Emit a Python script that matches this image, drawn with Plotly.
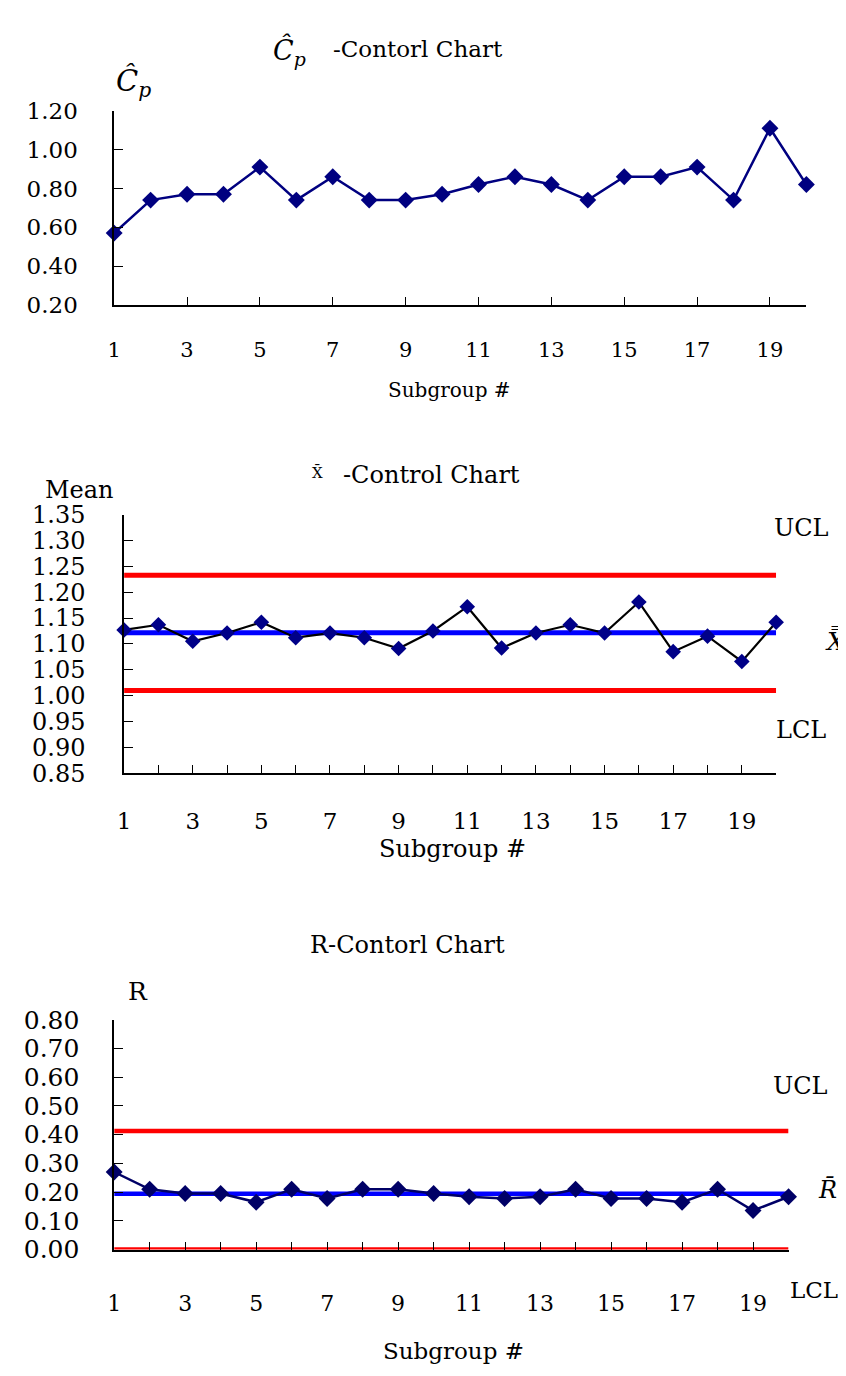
import plotly.graph_objects as go

# ---------------- data ----------------
subgroups = list(range(1, 21))
cp_values = [0.57, 0.74, 0.77, 0.77, 0.91, 0.74, 0.86, 0.74, 0.74, 0.77,
             0.82, 0.86, 0.82, 0.74, 0.86, 0.86, 0.91, 0.74, 1.11, 0.82]
xbar_values = [1.127, 1.137, 1.105, 1.121, 1.142, 1.112, 1.121, 1.112, 1.091, 1.125,
               1.172, 1.092, 1.121, 1.137, 1.121, 1.181, 1.085, 1.115, 1.066, 1.142]
r_values = [0.27, 0.21, 0.195, 0.195, 0.165, 0.21, 0.178, 0.21, 0.21, 0.195,
            0.184, 0.178, 0.184, 0.21, 0.178, 0.178, 0.165, 0.21, 0.136, 0.184]
xbar_limits = {"UCL": 1.233, "CL": 1.1215, "LCL": 1.010}
r_limits = {"UCL": 0.413, "CL": 0.194, "LCL": 0.0}
odd_ticks = [1, 3, 5, 7, 9, 11, 13, 15, 17, 19]
cp_yticks = [0.20, 0.40, 0.60, 0.80, 1.00, 1.20]
xbar_yticks = [0.85, 0.90, 0.95, 1.00, 1.05, 1.10, 1.15, 1.20, 1.25, 1.30, 1.35]
r_yticks = [0.0, 0.1, 0.2, 0.3, 0.4, 0.5, 0.6, 0.7, 0.8]

W, H = 846, 1376
def px(x):
    return x / W
def py(y):
    return 1 - y / H

FONT = "DejaVu Serif"
NAVY = "#000080"
RED = "#FF0000"
BLUE = "#0000FF"

fig = go.Figure()

# ---- top: Cp chart ----
fig.add_trace(go.Scatter(x=subgroups, y=cp_values, mode="lines+markers",
                         line=dict(color=NAVY, width=2.5),
                         marker=dict(symbol="diamond", size=13, color=NAVY),
                         cliponaxis=False, xaxis="x", yaxis="y", showlegend=False))

# ---- middle: Xbar chart ----
for key, col in (("UCL", RED), ("LCL", RED), ("CL", BLUE)):
    fig.add_trace(go.Scatter(x=[subgroups[0], subgroups[-1]],
                             y=[xbar_limits[key]] * 2, mode="lines",
                             line=dict(color=col, width=5), cliponaxis=False,
                             xaxis="x2", yaxis="y2", showlegend=False))
fig.add_trace(go.Scatter(x=subgroups, y=xbar_values, mode="lines+markers",
                         line=dict(color="black", width=2.2),
                         marker=dict(symbol="diamond", size=12, color="#000088"),
                         cliponaxis=False, xaxis="x2", yaxis="y2", showlegend=False))

# ---- bottom: R chart ----
for key, col in (("UCL", RED), ("LCL", RED), ("CL", BLUE)):
    fig.add_trace(go.Scatter(x=[subgroups[0], subgroups[-1]],
                             y=[r_limits[key]] * 2, mode="lines",
                             line=dict(color=col, width=4.5), cliponaxis=False,
                             xaxis="x3", yaxis="y3", showlegend=False))
fig.add_trace(go.Scatter(x=subgroups, y=r_values, mode="lines+markers",
                         line=dict(color="#000066", width=2.5),
                         marker=dict(symbol="diamond", size=13, color="#000066"),
                         cliponaxis=False, xaxis="x3", yaxis="y3", showlegend=False))

def xaxis_cfg(domain, anchor, font_size, standoff, minor):
    cfg = dict(domain=domain, anchor=anchor, range=[1, 20], showgrid=False,
               zeroline=False, showline=True, linecolor="black", linewidth=1.5,
               ticks="inside", ticklen=8, tickwidth=1.2, tickcolor="black",
               tickvals=odd_ticks, ticktext=[str(v) for v in odd_ticks],
               tickfont=dict(family=FONT, size=font_size, color="black"),
               ticklabelstandoff=standoff)
    if minor:
        cfg["minor"] = dict(dtick=1, tick0=0, ticks="inside", ticklen=8,
                            tickwidth=1.2, tickcolor="black", showgrid=False)
    return cfg

def yaxis_cfg(domain, anchor, rng, vals, fmt, font_size, standoff):
    return dict(domain=domain, anchor=anchor, range=rng, showgrid=False,
                zeroline=False, showline=True, linecolor="black", linewidth=1.5,
                ticks="inside", ticklen=9, tickwidth=1.2, tickcolor="black",
                tickvals=vals, ticktext=[fmt.format(v) for v in vals],
                tickfont=dict(family=FONT, size=font_size, color="black"),
                ticklabelstandoff=standoff)

fig.update_layout(
    width=W, height=H, margin=dict(l=0, r=0, t=0, b=0),
    paper_bgcolor="white", plot_bgcolor="white",
    xaxis=xaxis_cfg([px(100), px(798)], "y", 21, 25, False),
    yaxis=yaxis_cfg([py(289), py(90.7)], "x", [0.2, 1.2], cp_yticks, "{:.2f}", 23, 30),
    xaxis2=xaxis_cfg([px(110), px(767.5)], "y2", 23, 27, True),
    yaxis2=yaxis_cfg([py(767.3), py(503.3)], "x2", [0.85, 1.35], xbar_yticks, "{:.2f}", 24, 32),
    xaxis3=xaxis_cfg([px(100), px(780)], "y3", 22, 33, True),
    yaxis3=yaxis_cfg([py(1254), py(1019.3)], "x3", [0.0, 0.8], r_yticks, "{:.2f}", 25, 28),
)

def ann(text, x, y, size, italic=False):
    fig.add_annotation(text=text, x=px(x), y=py(y), xref="paper", yref="paper",
                       xanchor="center", yanchor="middle", showarrow=False,
                       font=dict(family=FONT, size=size, color="black",
                                 style="italic" if italic else "normal"))

# top annotations
ann("Ĉ<sub>p</sub>", 277, 30, 27, italic=True)
ann("-Contorl Chart", 406, 28, 23)
ann("Ĉ<sub>p</sub>", 119, 62, 29, italic=True)
ann("Subgroup #", 438, 376, 20)

# middle annotations
ann("X̄", 305, 461, 15)
ann("-Control Chart", 420, 463, 24)
ann("Mean", 65, 478, 24)
ann("UCL", 793, 517, 24)
ann("X̿", 827, 632, 25, italic=True)
ann("LCL", 793, 723, 24)
ann("Subgroup #", 441, 845, 24)

# bottom annotations
ann("R-Contorl Chart", 396, 943, 24)
ann("R", 124, 990, 25)
ann("UCL", 792, 1087, 24)
ann("R̄", 819, 1193, 24, italic=True)
ann("LCL", 806, 1295, 23)
ann("Subgroup #", 442, 1358, 23)

fig.write_html("out.html")
